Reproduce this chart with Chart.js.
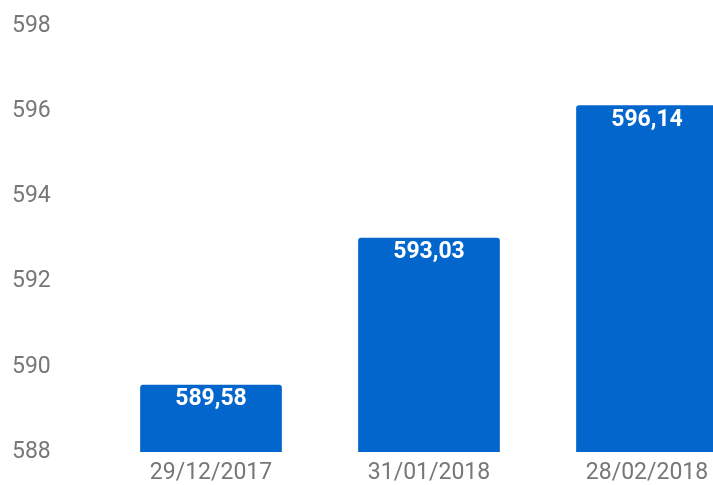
<!DOCTYPE html>
<html>
<head>
<meta charset="utf-8">
<script src="https://cdn.jsdelivr.net/npm/chart.js@4.4.1/dist/chart.umd.min.js"></script>
<style>
  html, body { margin: 0; padding: 0; background: #fff; overflow: hidden; }
  canvas { display: block; }
</style>
</head>
<body>
<canvas id="chart" width="760" height="485" style="width:760px;height:485px"></canvas>
<script>
var dates = ['29/12/2017', '31/01/2018', '28/02/2018'];
var values = [589.58, 593.03, 596.14];
var yTicks = [588, 590, 592, 594, 596, 598];

// value written inside the top of each bar, decimal comma
var barLabels = {
    id: 'barLabels',
    afterDatasetsDraw: function (chart) {
        var ctx = chart.ctx;
        var meta = chart.getDatasetMeta(0);
        ctx.save();
        ctx.fillStyle = '#ffffff';
        ctx.font = 'bold 23px Roboto';
        ctx.textAlign = 'center';
        ctx.textBaseline = 'middle';
        meta.data.forEach(function (bar, i) {
            ctx.fillText(values[i].toFixed(2).replace('.', ','), bar.x, bar.y + 15);
        });
        ctx.restore();
    }
};

let chart = new Chart(document.getElementById('chart'), {
    type: 'bar',
    data: {
        labels: dates,
        datasets: [
            {
                data: values,
                backgroundColor: '#0366cc',
                borderRadius: { topLeft: 3, topRight: 3 },
                borderSkipped: 'bottom',
                barPercentage: 0.65,
                categoryPercentage: 1
            }
        ]
    },
    options: {
        responsive: false,
        animation: false,
        layout: { padding: { top: 26, bottom: 0, left: 12, right: 4 } },
        plugins: {
            legend: { display: false },
            tooltip: { enabled: false }
        },
        scales: {
            x: {
                afterFit: function (scale) { scale.height = 33; },
                grid: { display: false, drawTicks: false },
                border: { display: false },
                ticks: { color: '#777777', font: { family: 'Roboto', size: 23, lineHeight: 1 }, padding: 10, maxRotation: 0 }
            },
            y: {
                min: yTicks[0],
                max: yTicks[yTicks.length - 1],
                afterBuildTicks: function (scale) {
                    scale.ticks = yTicks.map(function (v) { return { value: v }; });
                },
                afterFit: function (scale) { scale.width = 90; },
                grid: { display: false, drawTicks: false },
                border: { display: false },
                ticks: { color: '#777777', font: { family: 'Roboto', size: 23 }, padding: 0, crossAlign: 'far' }
            }
        }
    },
    plugins: [barLabels]
});
</script>
</body>
</html>
